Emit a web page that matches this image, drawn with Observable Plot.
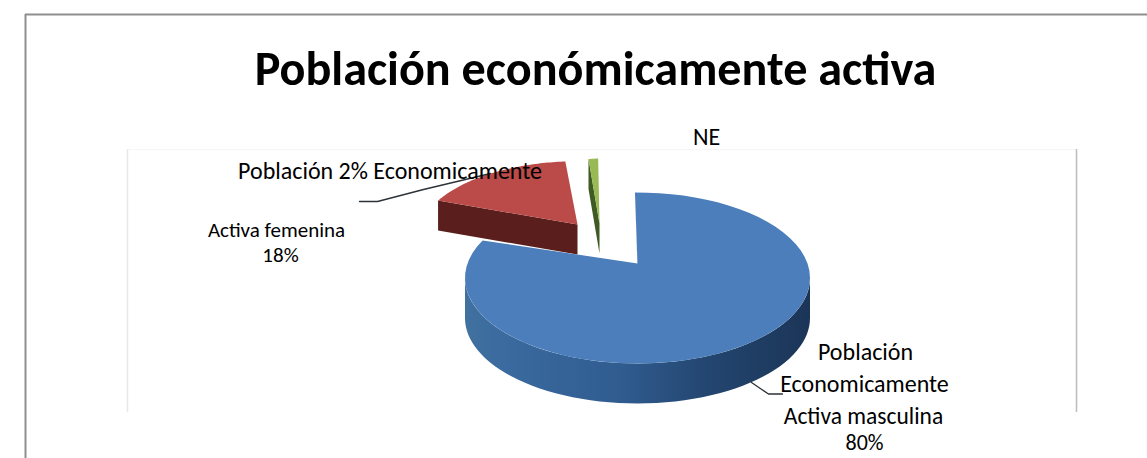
<!DOCTYPE html>
<html><head><meta charset="utf-8">
<script src="https://cdn.jsdelivr.net/npm/d3@7"></script>
<script src="https://cdn.jsdelivr.net/npm/@observablehq/plot@0.6"></script>
<style>html,body{margin:0;padding:0;background:#fff;overflow:hidden}svg{display:block}</style>
</head><body><div id="chart"></div>
<script>
// Data
const chartTitle = "Población económicamente activa";
const categories = ["Masculina", "Femenina", "NE"];
const shares = [80, 18, 2];
const labelTexts = ["NE", "Población 2% Economicamente", "Activa femenina", "18%", "Población", "Economicamente", "Activa masculina", "80%"];

// Layout of the tilted, exploded pie (kept apart from the data)
const perspective = 0.17, firstAngle = -1;
const sliceLayout = [
  {cx: 637, cy: 263, rx: 170, ry: 83, rot: 0, depth: 40, top: "#4b7eba", side: "url(#blueSide)"},
  {cx: 577, cy: 224, rx: 157, ry: 74, rot: 3, depth: 30, top: "#bb4b48", side: "#5a1e1c"},
  {cx: 599, cy: 223, rx: 90, ry: 76, rot: 0, depth: 30, top: "#98b954", side: "#3f5a22"}
];
const labelPlacement = [
  [706, 137], [389.5, 171], [276, 230], [280, 255], [865, 352], [864, 384], [863, 416], [864, 442]
];
const labelSizes = [24, 24, 21, 21, 24, 24, 23.5, 22];
const leaderLines = [
  [[359, 201], [377, 201], [423, 189], [490, 173]],
  [[751, 382], [768, 393.5], [782, 393.5]]
];

const rad = d => d * Math.PI / 180;
const arcs = d3.pie().sort(null).startAngle(rad(firstAngle)).endAngle(rad(firstAngle + 360))(shares);
const project = (l, deg, dy = 0) => {
  const t = rad(deg), u = Math.sin(t), v = Math.cos(t), w = 1 + perspective * v;
  return {x: l.cx + l.rx * u / w, y: l.cy - l.ry * v / w + dy};
};
const sweep = (l, from, to, dy = 0) => d3.range(0, 61).map(i => project(l, from + (to - from) * i / 60, dy));
const deg = r => r * 180 / Math.PI;
const spans = arcs.map((a, i) => ({a0: deg(a.startAngle) + sliceLayout[i].rot, a1: deg(a.endAngle) + sliceLayout[i].rot, l: sliceLayout[i]}));
const topFace = s => [{x: s.l.cx, y: s.l.cy}, ...sweep(s.l, s.a0, s.a1)];

// Blue: curved front wall. Red: cut face. Green: cut face.
const [sBlue, sRed, sGreen] = spans;
const blueWall = [...sweep(sBlue.l, 100, 260), ...sweep(sBlue.l, 260, 100, sBlue.l.depth)];
const cutFace = s => {
  const p = project(s.l, s.a0);
  return [p, {x: s.l.cx, y: s.l.cy}, {x: s.l.cx, y: s.l.cy + s.l.depth}, {x: p.x, y: p.y + s.l.depth}];
};
const poly = (pts, fill) => Plot.line(pts, {x: "x", y: "y", fill, stroke: "none", curve: "linear"});

const defs = () => {
  const d = d3.create("svg:defs");
  const g = d.append("linearGradient").attr("id", "blueSide").attr("x1", 0).attr("x2", 1).attr("y1", 0).attr("y2", 0);
  [[0, "#41719f"], [0.12, "#3a6a9f"], [0.45, "#305c90"], [0.7, "#234670"], [1, "#1b3557"]].forEach(([o, c]) =>
    g.append("stop").attr("offset", o).attr("stop-color", c));
  return d.node();
};

const fontFamily = "Carlito, Lato, sans-serif";
const chart = Plot.plot({
  width: 1147, height: 458, margin: 0,
  x: {domain: [0, 1147], range: [0, 1147], axis: null},
  y: {domain: [0, 458], range: [0, 458], axis: null},
  marks: [
    defs,
    // outer frame
    Plot.ruleY([14], {x1: 25, x2: 1147, stroke: "#8f8f8f", strokeWidth: 2}),
    Plot.ruleX([25], {y1: 14, y2: 458, stroke: "#8f8f8f", strokeWidth: 2}),
    // chart-area border
    Plot.ruleY([149], {x1: 127, x2: 1076, stroke: "#f6f6f6"}),
    Plot.ruleX([127], {y1: 149, y2: 412, stroke: "#e8e8e8", strokeWidth: 1.5}),
    Plot.ruleX([1076], {y1: 149, y2: 412, stroke: "#bcbcbc", strokeWidth: 1.5}),
    // red slice
    poly(cutFace(sRed), sRed.l.side),
    poly(topFace(sRed), sRed.l.top),
    // green slice
    poly(cutFace(sGreen), sGreen.l.side),
    poly(topFace(sGreen), sGreen.l.top),
    // blue slice
    poly(blueWall, sBlue.l.side),
    poly([{x: sBlue.l.cx, y: sBlue.l.cy}, {x: sBlue.l.cx, y: sBlue.l.cy + 3}, project(sBlue.l, sBlue.a0), project(sBlue.l, sBlue.a0)], "#1f3d63"),
    poly(topFace(sBlue), sBlue.l.top),
    // leader lines
    ...leaderLines.map(pts => Plot.line(pts, {x: d => d[0], y: d => d[1], stroke: "#2c3236", strokeWidth: 1.3, curve: "linear"})),
    // labels
    Plot.text(labelTexts, {
      x: (d, i) => labelPlacement[i][0], y: (d, i) => labelPlacement[i][1], text: d => d,
      fontFamily, fontSize: (d, i) => labelSizes[i], fill: "#000", textAnchor: "middle", lineAnchor: "middle"
    }),
    Plot.text([chartTitle], {x: [595], y: [69], text: d => d, fontFamily, fontSize: 48.2, fontWeight: 700, fill: "#000", textAnchor: "middle", lineAnchor: "middle"})
  ]
});
document.getElementById("chart").append(chart);
</script></body></html>
